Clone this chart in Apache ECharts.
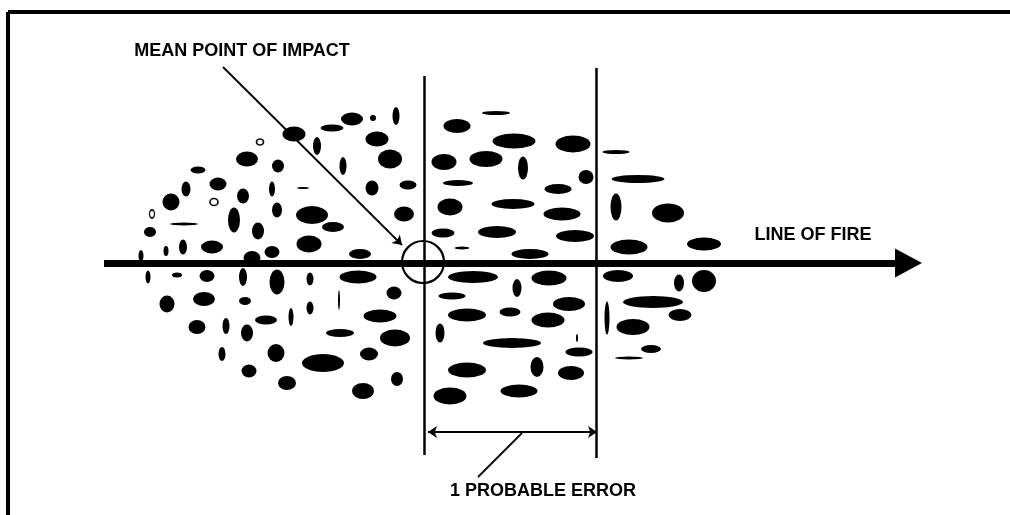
<!DOCTYPE html>
<html><head><meta charset="utf-8">
<script src="https://cdn.jsdelivr.net/npm/echarts@6/dist/echarts.min.js"></script>
<style>html,body{margin:0;padding:0;background:#fff}#c{width:1010px;height:515px}</style>
</head><body><div id="c"></div>
<script>
// Impact marks: centre x, centre y, width, height (pixel-scale units of the diagram)
const shotX = [352,373,396,332,294,317,377,390,343,247,278,198,218,186,171,243,272,303,372,408,184,234,277,312,333,404,150,258,212,183,166,309,141,252,272,360,
  148,177,207,243,277,310,358,339,394,167,204,245,310,291,266,380,197,226,247,340,395,222,276,323,369,249,287,363,397,
  496,457,514,573,444,486,523,616,586,638,458,558,616,668,450,513,562,443,497,575,462,530,629,704,
  473,549,517,452,569,510,467,548,440,512,577,579,467,537,571,450,519,618,607,653,633,680,679,704,651,629];
const shotY = [119,118,116,128,134,146,139,159,166,159,166,170,184,189,202,196,189,188,188,185,224,220,210,215,227,214,232,231,247,247,251,244,256,258,252,254,
  277,275,276,277,282,279,277,300,293,304,299,301,308,317,320,316,327,326,333,333,338,354,353,363,354,371,383,391,379,
  113,126,141,144,162,159,168,152,177,179,183,189,207,213,207,204,214,233,232,236,248,254,247,244,
  277,278,288,296,304,312,315,320,333,343,338,352,370,367,373,396,391,276,318,302,327,315,283,281,349,358];
const shotW = [22,6,7,23,23,8,23,24,7,22,12,15,17,9,17,12,6,12,13,17,28,12,10,32,22,20,12,12,22,8,5,25,5,17,15,22,
  5,10,15,8,15,7,37,2,15,15,22,12,7,5,22,33,17,7,12,28,30,7,17,42,18,15,18,22,12,
  28,27,43,35,25,33,10,27,15,53,30,27,11,32,25,43,37,23,38,38,15,37,37,34,
  50,35,9,27,32,21,38,33,9,58,2,27,38,13,26,33,37,30,5,60,33,23,10,24,20,28];
const shotH = [13,6,18,7,15,18,15,19,18,15,13,7,13,15,17,15,15,2,15,9,3,25,15,18,10,15,10,17,13,15,10,17,12,14,12,10,
  13,5,12,18,25,13,13,20,13,17,14,8,13,18,9,13,14,16,17,8,17,14,18,18,13,13,14,16,14,
  4,14,15,17,16,16,23,4,14,8,6,10,27,19,17,10,13,9,12,12,3,10,15,13,
  12,15,18,7,14,9,13,15,19,10,8,9,15,20,14,17,13,12,33,12,16,12,17,22,8,3];
// Open (ring) marks
const ringX = [260,214,152];
const ringY = [142,202,214];
const ringW = [7,8,5];
const ringH = [6,7,8];
// Annotation lines
const lineOfFire = {x0:104, x1:897, y:263, tipX:922};
const guideLeft  = [[424,76],[424,455]];
const guideRight = [[596,68],[596,458]];
const mpiLeader  = [[223,67],[402,245]];
const errorSpan  = [[428,432],[597,432]];
const errorLeader= [[478,477],[522,433]];
const mpiCircle  = {x:423, y:262, r:21};
const frameTop   = [[8,12],[1012,12]];
const frameLeft  = [[8,12],[8,520]];
// Text labels
const labelText = ['MEAN POINT OF IMPACT','LINE OF FIRE','1 PROBABLE ERROR'];
const labelX = [242,813,543];
const labelY = [51,235,491];

const shots = shotX.map((x,i)=>[x,shotY[i],shotW[i],shotH[i]]);
const rings = ringX.map((x,i)=>[x,ringY[i],ringW[i],ringH[i]]);
const labels = labelText.map((t,i)=>({value:[labelX[i],labelY[i]], name:t}));

const thin = (coords, w, sym) => ({
  type:'lines', coordinateSystem:'cartesian2d', silent:true, z:5,
  symbol: sym || ['none','none'], symbolSize: 9,
  lineStyle:{color:'#000', width:w, opacity:1, cap:'butt'},
  data:[{coords}]
});

const chart = echarts.init(document.getElementById('c'), null, {renderer:'canvas'});
chart.setOption({
  animation:false,
  backgroundColor:'#fff',
  grid:{left:0,right:0,top:0,bottom:0},
  xAxis:{type:'value',min:0,max:1010,show:false},
  yAxis:{type:'value',min:0,max:515,inverse:true,show:false},
  series:[
    {type:'scatter', silent:true, z:2, data:shots, symbol:'circle',
     symbolSize:v=>[v[2],v[3]], itemStyle:{color:'#000', opacity:1}},
    {type:'scatter', silent:true, z:2, data:rings, symbol:'circle',
     symbolSize:v=>[v[2],v[3]], itemStyle:{color:'rgba(0,0,0,0)', borderColor:'#111', borderWidth:1.6, opacity:1}},
    thin(frameTop, 4),
    thin(frameLeft, 4),
    thin(guideLeft, 2.5),
    thin(guideRight, 2.5),
    thin(mpiLeader, 1.8, ['none','arrow']),
    thin(errorSpan, 1.8, ['arrow','arrow']),
    thin(errorLeader, 1.8),
    thin([[lineOfFire.x0,lineOfFire.y],[lineOfFire.x1,lineOfFire.y]], 7),
    {type:'scatter', silent:true, z:6, symbol:'triangle', symbolRotate:-90,
     symbolSize:[29, lineOfFire.tipX-lineOfFire.x1+2],
     data:[[ (lineOfFire.x1-2+lineOfFire.tipX)/2, lineOfFire.y ]],
     itemStyle:{color:'#000', opacity:1}},
    {type:'scatter', silent:true, z:6, symbol:'circle', symbolSize:mpiCircle.r*2,
     data:[[mpiCircle.x, mpiCircle.y]],
     itemStyle:{color:'rgba(0,0,0,0)', borderColor:'#000', borderWidth:2.2, opacity:1}},
    {type:'scatter', silent:true, z:7, symbolSize:0, data:labels,
     itemStyle:{opacity:1},
     label:{show:true, position:'inside', formatter:p=>p.name, color:'#000',
            textBorderWidth:0, opacity:1,
            fontFamily:'Liberation Sans, Arial, sans-serif', fontWeight:'bold', fontSize:18}}
  ]
});
</script></body></html>
